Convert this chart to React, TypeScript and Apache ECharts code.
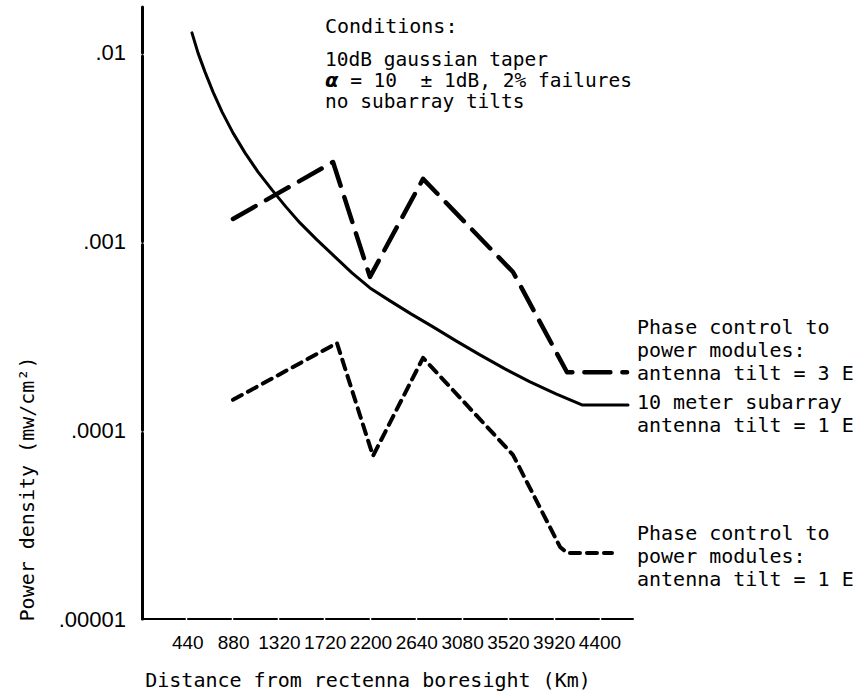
import React, { useEffect, useRef } from "react";
import * as echarts from "echarts";

// X tick labels (km), as printed on the original axis (step of 440 km)
const distanceTicks = ["440", "880", "1320", "1720", "2200", "2640", "3080", "3520", "3920", "4400"];
const kmStep = 440;
// Y tick labels, decades 1e-5 .. 1e-2
const yDecades = [-5, -4, -3, -2];
const yTickLabels = [".00001", ".0001", ".001", ".01"];

// 10 meter subarray, antenna tilt = 1 E (solid)
const solidKm = [480, 538, 605, 682, 769, 874, 990, 1114, 1249, 1383, 1518, 1681, 1854, 2017, 2190, 2383, 2584, 2796, 3017, 3247, 3487, 3728, 3977, 4227, 4669];
const solidVal = [
  0.012764, 0.01, 0.00793, 0.006214, 0.004868, 0.003767, 0.002952, 0.002341, 0.001879, 0.001527, 0.001256, 0.001021,
  0.0008294, 0.0006825, 0.0005683, 0.000485, 0.0004138, 0.0003532, 0.0002977, 0.000251, 0.0002115, 0.0001805,
  0.0001559, 0.0001363, 0.0001363,
];

// Phase control to power modules: antenna tilt = 3 E (long dashes)
const tilt3Km = [874, 1835, 2190, 2700, 3564, 4083, 4660];
const tilt3Val = [0.001318, 0.00264, 0.00065, 0.00215, 0.00069, 0.000203, 0.000203];

// Phase control to power modules: antenna tilt = 1 E (short dashes)
const tilt1Km = [874, 1873, 2219, 2700, 3564, 4016, 4083, 4515];
const tilt1Val = [0.000145, 0.00029, 0.0000731, 0.000242, 0.0000741, 0.0000241, 0.0000224, 0.0000224];

const conditionTitle = "Conditions:";
const conditionLines = ["10dB gaussian taper", "{a|α} = 10  ± 1dB, 2% failures", "no subarray tilts"];
const rightLabels3 = ["Phase control to", "power modules:", "antenna tilt = 3 E"];
const rightLabelsSolid = ["10 meter subarray", "antenna tilt = 1 E"];
const rightLabels1 = ["Phase control to", "power modules:", "antenna tilt = 1 E"];

const MONO = "'DejaVu Sans Mono', 'Liberation Mono', monospace";
const SANS = "'Liberation Sans', Arial, sans-serif";

function zip(xs: number[], ys: number[]) {
  return xs.map((x, i) => [x, ys[i]]);
}

function textBlock(lines: string[], x: number, yFirst: number, lineHeight: number, fontSize = 20) {
  return {
    type: "text",
    x,
    y: yFirst - lineHeight / 2,
    style: {
      text: lines.join("\n"),
      fill: "#000",
      fontFamily: MONO,
      fontSize,
      lineHeight,
      align: "left",
      verticalAlign: "top",
      textAlign: "left",
      textVerticalAlign: "top",
      rich: {
        a: { fontFamily: "'DejaVu Sans', sans-serif", fontWeight: "bold", fontStyle: "italic", fontSize, lineHeight, fill: "#000" },
      },
    },
  };
}

export default function App() {
  const ref = useRef<HTMLDivElement>(null);
  useEffect(() => {
    if (!ref.current) return;
    const chart = echarts.init(ref.current, null, { renderer: "svg" });
    const graphics: any[] = [
      textBlock([conditionTitle], 325, 26, 22, 20),
      textBlock(conditionLines, 325, 59, 21, 19.5),
      textBlock(rightLabels3, 637, 327, 23),
      textBlock(rightLabelsSolid, 637, 402, 23),
      textBlock(rightLabels1, 637, 533, 23),
      {
        type: "text",
        x: 27,
        y: 489,
        rotation: Math.PI / 2,
        style: {
          text: "Power density (mw/cm²)",
          fill: "#000",
          fontFamily: MONO,
          fontSize: 20,
          align: "center",
          verticalAlign: "middle",
          textAlign: "center",
          textVerticalAlign: "middle",
        },
      },
    ];

    chart.setOption({
      animation: false,
      backgroundColor: "#fff",
      grid: { left: 142, right: 233, top: 7, bottom: 80, containLabel: false },
      xAxis: {
        type: "value",
        min: 0,
        max: 4717,
        interval: kmStep,
        name: "Distance from rectenna boresight (Km)",
        nameLocation: "middle",
        nameGap: 51,
        nameTextStyle: { fontFamily: MONO, fontSize: 20, color: "#000", padding: [0, 39, 0, 0] },
        axisLine: { onZero: false, lineStyle: { color: "#000", width: 2, type: [43, 3] } },
        axisTick: { show: false },
        splitLine: { show: false },
        axisLabel: {
          margin: 14,
          fontFamily: SANS,
          fontSize: 19,
          color: "#000",
          showMinLabel: true,
          showMaxLabel: true,
          formatter: (v: number) => {
            const i = Math.round(v / kmStep);
            if (Math.abs(v - i * kmStep) > 1 || i < 1 || i > distanceTicks.length) return "";
            return distanceTicks[i - 1];
          },
        },
      },
      yAxis: {
        type: "log",
        logBase: 10,
        min: 1e-5,
        max: 0.0175,
        axisLine: { lineStyle: { color: "#000", width: 3, type: [185.7, 3] } },
        axisTick: { show: false },
        splitLine: { show: false },
        axisLabel: {
          margin: 16,
          fontFamily: SANS,
          fontSize: 22,
          color: "#000",
          formatter: (v: number) => {
            const l = Math.log10(v);
            const r = Math.round(l);
            if (Math.abs(l - r) > 1e-6) return "";
            const idx = yDecades.indexOf(r);
            return idx >= 0 ? yTickLabels[idx] : "";
          },
        },
      },
      series: [
        {
          type: "line",
          name: "10 meter subarray",
          data: zip(solidKm, solidVal),
          showSymbol: false,
          symbol: "none",
          lineStyle: { color: "#000", width: 3, cap: "round", join: "round" },
        },
        {
          type: "line",
          name: "tilt 3E",
          data: zip(tilt3Km, tilt3Val),
          showSymbol: false,
          symbol: "none",
          lineStyle: { color: "#000", width: 4.5, type: [26, 12], cap: "round", join: "round" },
        },
        {
          type: "line",
          name: "tilt 1E",
          data: zip(tilt1Km, tilt1Val),
          showSymbol: false,
          symbol: "none",
          lineStyle: { color: "#000", width: 4, type: [10, 7], cap: "round", join: "round" },
        },
      ],
      graphic: graphics,
    });
    return () => chart.dispose();
  }, []);
  return <div ref={ref} style={{ position: "fixed", left: 0, top: 0, width: 866, height: 699 }} />;
}
